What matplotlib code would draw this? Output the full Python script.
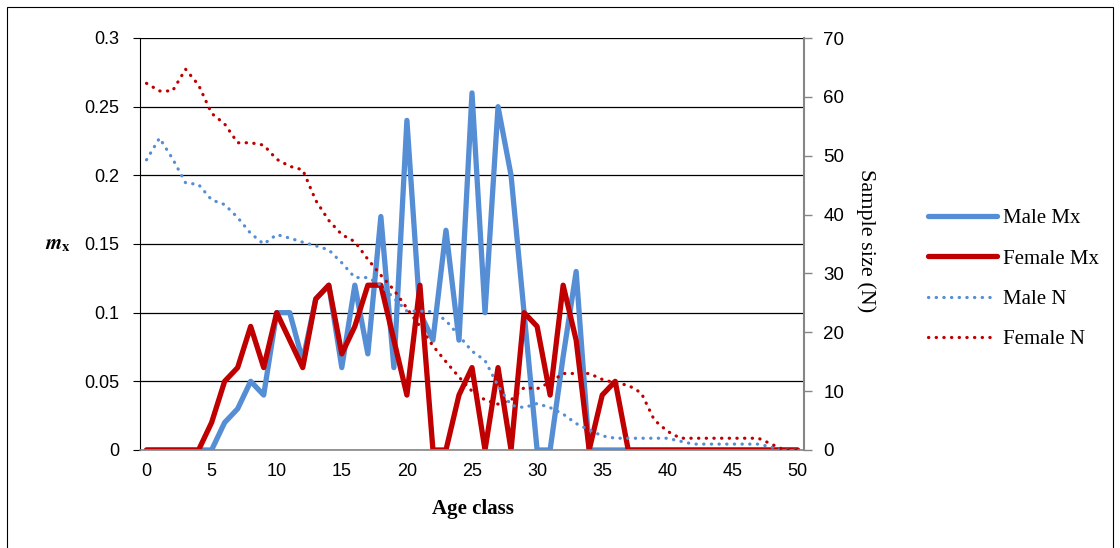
import numpy as np
import matplotlib
matplotlib.use("Agg")
import matplotlib.pyplot as plt
from matplotlib.lines import Line2D
from matplotlib.patches import Rectangle

# ---------------------------------------------------------------
# data
# ---------------------------------------------------------------
age = list(range(51))

male_mx = [0, 0, 0, 0, 0, 0, 0.02, 0.03, 0.05, 0.04,
           0.10, 0.10, 0.065, 0.11, 0.12, 0.06, 0.12, 0.07, 0.17, 0.06,
           0.24, 0.10, 0.08, 0.16, 0.08, 0.26, 0.10, 0.25, 0.20, 0.10,
           0, 0, 0.068, 0.13, 0, 0, 0, 0, 0, 0,
           0, 0, 0, 0, 0, 0, 0, 0, 0, 0, 0]

female_mx = [0, 0, 0, 0, 0, 0.02, 0.05, 0.06, 0.09, 0.06,
             0.10, 0.08, 0.06, 0.11, 0.12, 0.07, 0.09, 0.12, 0.12, 0.08,
             0.04, 0.12, 0, 0, 0.04, 0.06, 0, 0.06, 0, 0.10,
             0.09, 0.04, 0.12, 0.08, 0, 0.04, 0.05, 0, 0, 0,
             0, 0, 0, 0, 0, 0, 0, 0, 0, 0, 0]

male_n = [49.3, 53, 49.5, 45.4, 45.1, 42.5, 41.7, 39.5, 36.8, 35,
          36.6, 36, 35.3, 34.7, 34, 31.8, 29.3, 29.3, 28, 25.8,
          23.6, 23.6, 23.5, 22, 19.4, 16.8, 15.2, 10.9, 7.6, 7.2,
          7.9, 7.2, 6.1, 4.5, 3.4, 2.4, 2, 2, 2, 2,
          2, 1.5, 1, 1, 1, 1, 1, 1, 0.5, 0, 0]

female_n = [62.3, 61, 61, 64.7, 62, 57.2, 55.4, 52.2, 52.2, 51.8,
            49.4, 48.2, 47.6, 42.4, 39, 36.6, 35.4, 32.4, 29.7, 27.2,
            24.1, 21, 17.7, 15, 12.4, 10, 8.5, 7.8, 8.5, 10.6,
            10.4, 11.5, 13, 13, 13, 12, 11.4, 11, 9.7, 5.1,
            3.2, 2, 2, 2, 2, 2, 2, 2, 1, 0, 0]

x_ticks = list(range(0, 51, 5))
left_ticks = [0, 0.05, 0.1, 0.15, 0.2, 0.25, 0.3]
left_labels = ["0", "0.05", "0.1", "0.15", "0.2", "0.25", "0.3"]
right_ticks = list(range(0, 71, 10))

BLUE = "#558ED5"
RED = "#C00000"
GREY = "#868686"

plt.rcParams["font.family"] = ["Liberation Sans", "DejaVu Sans"]
plt.rcParams["mathtext.fontset"] = "stix"

fig = plt.figure(figsize=(11.2, 5.48), dpi=100)
ax = fig.add_axes([140 / 1120, 1 - 450 / 548, 664 / 1120, 412 / 548])
ax2 = ax.twinx()

# outer chart border
fig.patches.append(Rectangle((7 / 1120, -0.05), 1106 / 1120, 1 - 7 / 548 + 0.05,
                             transform=fig.transFigure, fill=False,
                             edgecolor="black", linewidth=0.8))

# ---------------------------------------------------------------
# mx lines (primary axis)
# ---------------------------------------------------------------
thick = dict(linewidth=3.8, solid_capstyle="round", solid_joinstyle="round")
ax.plot(age, male_mx, color=BLUE, **thick)
ax.plot(age, female_mx, color=RED, **thick)

ax.set_xlim(-0.5, 50.5)
ax.set_ylim(0, 0.3)
ax.set_yticks(left_ticks)
ax.set_yticklabels(left_labels)
ax.set_xticks(x_ticks)
ax.yaxis.grid(True, color="black", linewidth=0.9)
ax.set_axisbelow(True)
ax.tick_params(axis="y", labelsize=13, length=5, width=0.8, pad=10, color="black")
ax.tick_params(axis="x", labelsize=13, length=0, pad=9)

for s in ["top", "right"]:
    ax.spines[s].set_visible(False)
ax.spines["left"].set_color("black")
ax.spines["bottom"].set_color(GREY)
ax.spines["bottom"].set_linewidth(1.2)

# ---------------------------------------------------------------
# sample size lines (secondary axis)
# ---------------------------------------------------------------
dots = dict(linewidth=2.3, linestyle=(0, (0.1, 2.3)), dash_capstyle="round")
ax2.plot(age, male_n, color=BLUE, **dots)
ax2.plot(age, female_n, color=RED, **dots)
ax2.set_ylim(0, 70)
ax2.set_yticks(right_ticks)
ax2.tick_params(axis="y", labelsize=13.5, length=6, width=1.0, pad=8, color=GREY)
for s in ["top", "left", "bottom"]:
    ax2.spines[s].set_visible(False)
ax2.spines["right"].set_color(GREY)
ax2.spines["right"].set_linewidth(1.5)

# ---------------------------------------------------------------
# labels
# ---------------------------------------------------------------
fig.text(473 / 1120, 1 - 509 / 548, "Age class", ha="center", va="center",
         family="Liberation Serif", fontweight="bold", fontsize=15)
fig.text(58 / 1120, 1 - 244 / 548, r"$\mathbfit{m}_{\mathbf{x}}$", ha="center",
         va="center", fontsize=15)
fig.text(866 / 1120, 1 - 241 / 548, "Sample size (N)", ha="center", va="center",
         rotation=-90, family="Liberation Serif", fontsize=16)

# legend
handles = [
    Line2D([], [], color=BLUE, **thick),
    Line2D([], [], color=RED, **thick),
    Line2D([], [], color=BLUE, **dots),
    Line2D([], [], color=RED, **dots),
]
names = ["Male Mx", "Female Mx", "Male N", "Female N"]
fig.legend(handles, names, loc="center left",
           bbox_to_anchor=(909 / 1120, 1 - 279 / 548), frameon=False,
           prop={"family": "Liberation Serif", "size": 15},
           handlelength=3.3, handletextpad=0.3, labelspacing=1.0)

fig.savefig("out.png", dpi=100)
